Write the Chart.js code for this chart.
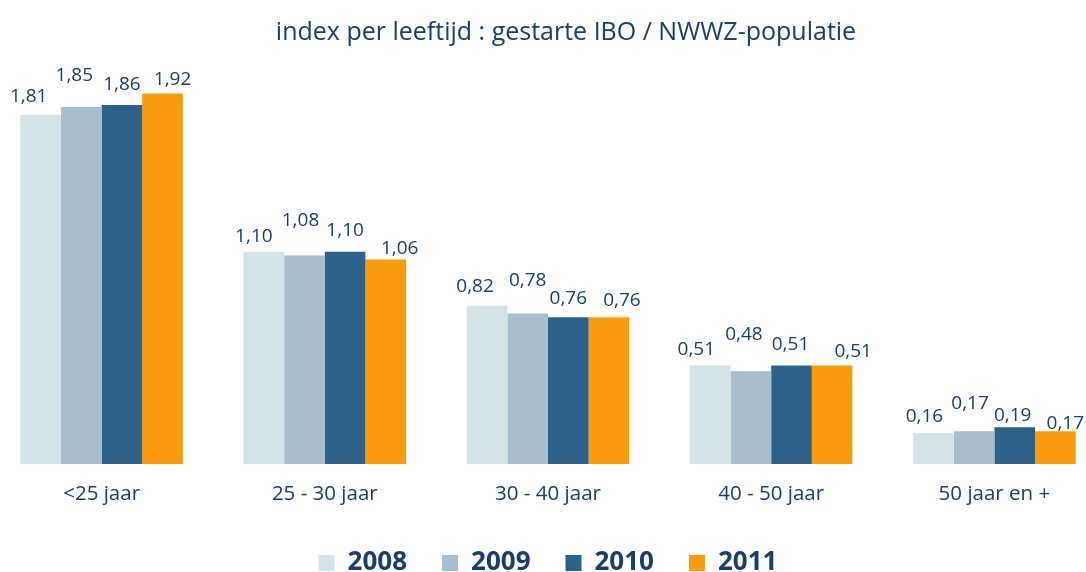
<!DOCTYPE html>
<html>
<head>
<meta charset="utf-8">
<script src="https://cdn.jsdelivr.net/npm/chart.js@4/dist/chart.umd.min.js"></script>
<style>
    html, body { margin: 0; padding: 0; background: #ffffff; overflow: hidden; }
    #wrap { position: absolute; left: -10px; top: 0; }
</style>
</head>
<body>
<div id="wrap"><canvas id="indexChart" width="1116" height="586"></canvas></div>
<script>
// ------------------------------------------------------
// DATA
// ------------------------------------------------------

const ageGroups = ["<25 jaar", "25 - 30 jaar", "30 - 40 jaar", "40 - 50 jaar", "50 jaar en +"];

const years = ["2008", "2009", "2010", "2011"];

const values2008 = [1.81, 1.10, 0.82, 0.51, 0.16];
const values2009 = [1.85, 1.08, 0.78, 0.48, 0.17];
const values2010 = [1.86, 1.10, 0.76, 0.51, 0.19];
const values2011 = [1.92, 1.06, 0.76, 0.51, 0.17];

const titleText = "index per leeftijd : gestarte IBO / NWWZ-populatie";

// ------------------------------------------------------
// STYLE
// ------------------------------------------------------

const textColor = "#1b3c6c";
const barColors = ["#d4e3e8", "#a8bece", "#2e6189", "#f99b0f"];

// label nudges [dx, lift above bar top] per year, per group
const labelNudge = [
    [[-12, 20], [-10, 17], [-12, 21], [-14, 18], [-9, 18]],
    [[-7, 33], [-4, 37], [0, 34], [-7, 38], [-4, 29]],
    [[0, 22], [0, 23], [0, 20], [-1, 23], [-2, 13]],
    [[10, 15], [14, 12], [13, 18], [21, 16], [10, 9]]
];

// ------------------------------------------------------
// PLUGINS
// ------------------------------------------------------

const valueLabels = {
    id: "valueLabels",
    afterDatasetsDraw(chart) {
        const ctx = chart.ctx;
        ctx.save();
        ctx.font = "19px 'Open Sans'";
        ctx.fillStyle = textColor;
        ctx.textAlign = "center";
        ctx.textBaseline = "alphabetic";
        chart.data.datasets.forEach((ds, di) => {
            chart.getDatasetMeta(di).data.forEach((bar, i) => {
                const n = labelNudge[di][i];
                const txt = ds.data[i].toFixed(2).replace(".", ",");
                ctx.fillText(txt, bar.x + n[0], bar.y - n[1] + 7);
            });
        });
        ctx.restore();
    }
};

const offsetTitle = {
    id: "offsetTitle",
    afterDraw(chart) {
        const ctx = chart.ctx;
        ctx.save();
        ctx.font = "25px 'Open Sans'";
        ctx.fillStyle = textColor;
        ctx.textAlign = "center";
        ctx.textBaseline = "alphabetic";
        ctx.fillText(titleText, chart.width / 2 + 18, 40);
        ctx.restore();
    }
};

// ------------------------------------------------------
// CHART
// ------------------------------------------------------

const seriesValues = [values2008, values2009, values2010, values2011];

new Chart(document.getElementById("indexChart"), {
    type: "bar",
    data: {
        labels: ageGroups,
        datasets: years.map((y, k) => ({
            label: y,
            data: seriesValues[k],
            backgroundColor: barColors[k],
            borderWidth: 0,
            categoryPercentage: 0.728,
            barPercentage: 1.0
        }))
    },
    options: {
        responsive: false,
        animation: false,
        devicePixelRatio: 1,
        layout: { padding: { top: 78, left: 0, right: 0, bottom: 0 } },
        plugins: {
            title: { display: false },
            tooltip: { enabled: false },
            legend: {
                position: "bottom",
                labels: {
                    color: textColor,
                    boxWidth: 16,
                    boxHeight: 16,
                    padding: 35,
                    font: { family: "'Open Sans'", size: 26, weight: "bold" }
                }
            }
        },
        scales: {
            x: {
                grid: { display: false, drawTicks: false },
                border: { display: false },
                ticks: {
                    color: textColor,
                    padding: 18,
                    font: { family: "'Open Sans'", size: 20.5 }
                },
                afterFit(scale) { scale.height = 51; }
            },
            y: {
                display: false,
                min: 0,
                max: 2.0
            }
        }
    },
    plugins: [valueLabels, offsetTitle]
});
</script>
</body>
</html>
